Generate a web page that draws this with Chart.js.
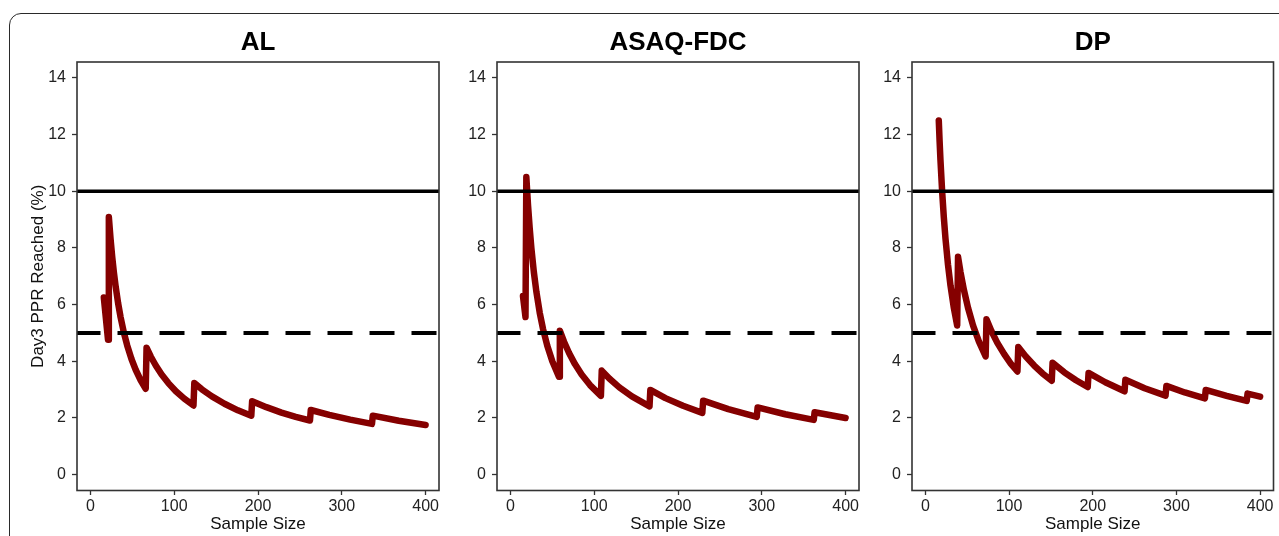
<!DOCTYPE html>
<html>
<head>
<meta charset="utf-8">
<title>Day3 PPR Reached by sample size</title>
<script src="https://cdn.jsdelivr.net/npm/chart.js@4.4.0/dist/chart.umd.min.js"></script>
<style>
  body { margin: 0; background: #fff; overflow: hidden; width: 1279px; height: 536px; position: relative; }
  #frame { position: absolute; left: 8.5px; top: 13px; width: 1400px; height: 700px; border: 1.6px solid #2a2a2a; border-radius: 12px; }
  .panel { position: absolute; top: 0; height: 536px; }
</style>
</head>
<body>
<div id="frame"></div>
<div class="panel" style="left:0;width:450px"><canvas id="c1"></canvas></div>
<div class="panel" style="left:457px;width:413px"><canvas id="c2"></canvas></div>
<div class="panel" style="left:872px;width:407px"><canvas id="c3"></canvas></div>
<script>
// axis ticks and limits
const sampleTicks = [0, 100, 200, 300, 400];
const pprTicks = [0, 2, 4, 6, 8, 10, 12, 14];
const X_MIN = -16, X_MAX = 416;
const Y_MIN = -0.56, Y_MAX = 14.56;
const upperLimit = 10;   // solid line
const lowerLimit = 5;    // dashed line

// AL
const alX = [16, 21,
  22, 24, 26, 28, 30, 33, 36, 40, 44, 49, 54, 60, 66,
  67, 72, 78, 85, 93, 102, 112, 123,
  124, 133, 145, 160, 176, 192,
  193, 210, 228, 245, 262,
  263, 285, 310, 336,
  337, 368, 400];
const alY = [6.25, 4.76,
  9.09, 8.33, 7.69, 7.14, 6.67, 6.06, 5.56, 5.0, 4.55, 4.08, 3.70, 3.33, 3.03,
  4.48, 4.17, 3.85, 3.53, 3.23, 2.94, 2.68, 2.44,
  3.23, 3.01, 2.76, 2.50, 2.27, 2.08,
  2.59, 2.38, 2.19, 2.04, 1.91,
  2.28, 2.11, 1.94, 1.79,
  2.08, 1.90, 1.75];

// ASAQ-FDC
const asaqX = [15, 18,
  19, 21, 23, 25, 28, 31, 35, 39, 44, 50, 58,
  59, 64, 70, 77, 85, 95, 108,
  109, 118, 130, 145, 166,
  167, 185, 206, 229,
  230, 260, 294,
  295, 328, 362,
  363, 400];
const asaqY = [6.3, 5.56,
  10.5, 9.52, 8.70, 8.0, 7.14, 6.45, 5.71, 5.13, 4.55, 4.0, 3.45,
  5.08, 4.69, 4.29, 3.90, 3.53, 3.16, 2.78,
  3.67, 3.39, 3.08, 2.76, 2.41,
  2.99, 2.70, 2.43, 2.18,
  2.61, 2.31, 2.04,
  2.37, 2.13, 1.93,
  2.2, 2.0];

// DP
const dpX = [16, 17, 18, 20, 22, 24, 27, 30, 34, 38,
  39, 42, 46, 51, 57, 64, 72,
  73, 79, 86, 94, 102, 110,
  111, 120, 130, 140, 151,
  152, 166, 180, 194,
  195, 215, 238,
  239, 262, 287,
  288, 310, 334,
  335, 360, 384,
  385, 400];
const dpY = [12.5, 11.76, 11.11, 10.0, 9.09, 8.33, 7.41, 6.67, 5.88, 5.26,
  7.69, 7.14, 6.52, 5.88, 5.26, 4.69, 4.17,
  5.48, 5.06, 4.65, 4.26, 3.92, 3.64,
  4.5, 4.17, 3.85, 3.57, 3.31,
  3.95, 3.61, 3.33, 3.09,
  3.59, 3.26, 2.94,
  3.35, 3.05, 2.79,
  3.13, 2.90, 2.69,
  2.99, 2.78, 2.6,
  2.86, 2.75];

Chart.defaults.font.family = '"Liberation Sans", Arial, sans-serif';

// box around each plot region
const plotBox = {
  id: "plotBox",
  afterDraw(chart) {
    const { ctx, chartArea: a } = chart;
    ctx.save();
    ctx.strokeStyle = "#333";
    ctx.lineWidth = 1.6;
    ctx.strokeRect(a.left, a.top, a.right - a.left, a.bottom - a.top);
    ctx.restore();
  }
};

function toPoints(xs, ys) {
  return xs.map((x, i) => ({ x: x, y: ys[i] }));
}

function makePanel(id, title, xs, ys, showYTitle, yAxisWidth, padRight) {
  return new Chart(document.getElementById(id), {
    type: "line",
    data: {
      datasets: [
        {
          data: [{ x: X_MIN, y: upperLimit }, { x: X_MAX, y: upperLimit }],
          borderColor: "#000", borderWidth: 3.5, pointRadius: 0
        },
        {
          data: [{ x: X_MIN, y: lowerLimit }, { x: X_MAX, y: lowerLimit }],
          borderColor: "#000", borderWidth: 4, borderDash: [25, 17], borderDashOffset: 1.5, pointRadius: 0
        },
        {
          data: toPoints(xs, ys),
          borderColor: "#850000", borderWidth: 6.5, pointRadius: 0, tension: 0,
          borderCapStyle: "round", borderJoinStyle: "round"
        }
      ]
    },
    options: {
      responsive: true,
      maintainAspectRatio: false,
      animation: false,
      layout: { padding: { left: 0, right: padRight, top: 0, bottom: 0 } },
      plugins: {
        legend: { display: false },
        tooltip: { enabled: false },
        title: {
          display: true, text: title, color: "#000", fullSize: false,
          font: { size: 26, weight: "bold" },
          padding: { top: 27.4, bottom: 3.4 }
        }
      },
      scales: {
        x: {
          type: "linear", min: X_MIN, max: X_MAX,
          afterBuildTicks: s => { s.ticks = sampleTicks.map(v => ({ value: v })); },
          afterFit: s => { s.height = 45.5; },
          ticks: { color: "#222", font: { size: 16 }, padding: 1.5, maxRotation: 0 },
          grid: { display: true, drawOnChartArea: false, drawTicks: true, tickLength: 4.5, color: "#333", tickWidth: 1.3 },
          border: { display: false },
          title: { display: true, text: "Sample Size", color: "#111", font: { size: 17 }, padding: { top: 0, bottom: 1.5 } }
        },
        y: {
          type: "linear", min: Y_MIN, max: Y_MAX,
          afterBuildTicks: s => { s.ticks = pprTicks.map(v => ({ value: v })); },
          afterFit: s => { s.width = yAxisWidth; },
          ticks: { color: "#222", font: { size: 16 }, padding: 6 },
          grid: { display: true, drawOnChartArea: false, drawTicks: true, tickLength: 5, color: "#333", tickWidth: 1.3 },
          border: { display: false },
          title: { display: showYTitle, text: "Day3 PPR Reached (%)", color: "#111", font: { size: 17 }, padding: { top: 27.8, bottom: 0 } }
        }
      }
    },
    plugins: [plotBox]
  });
}

makePanel("c1", "AL", alX, alY, true, 77, 11);
makePanel("c2", "ASAQ-FDC", asaqX, asaqY, false, 40, 11);
makePanel("c3", "DP", dpX, dpY, false, 40, 5.5);
</script>
</body>
</html>
